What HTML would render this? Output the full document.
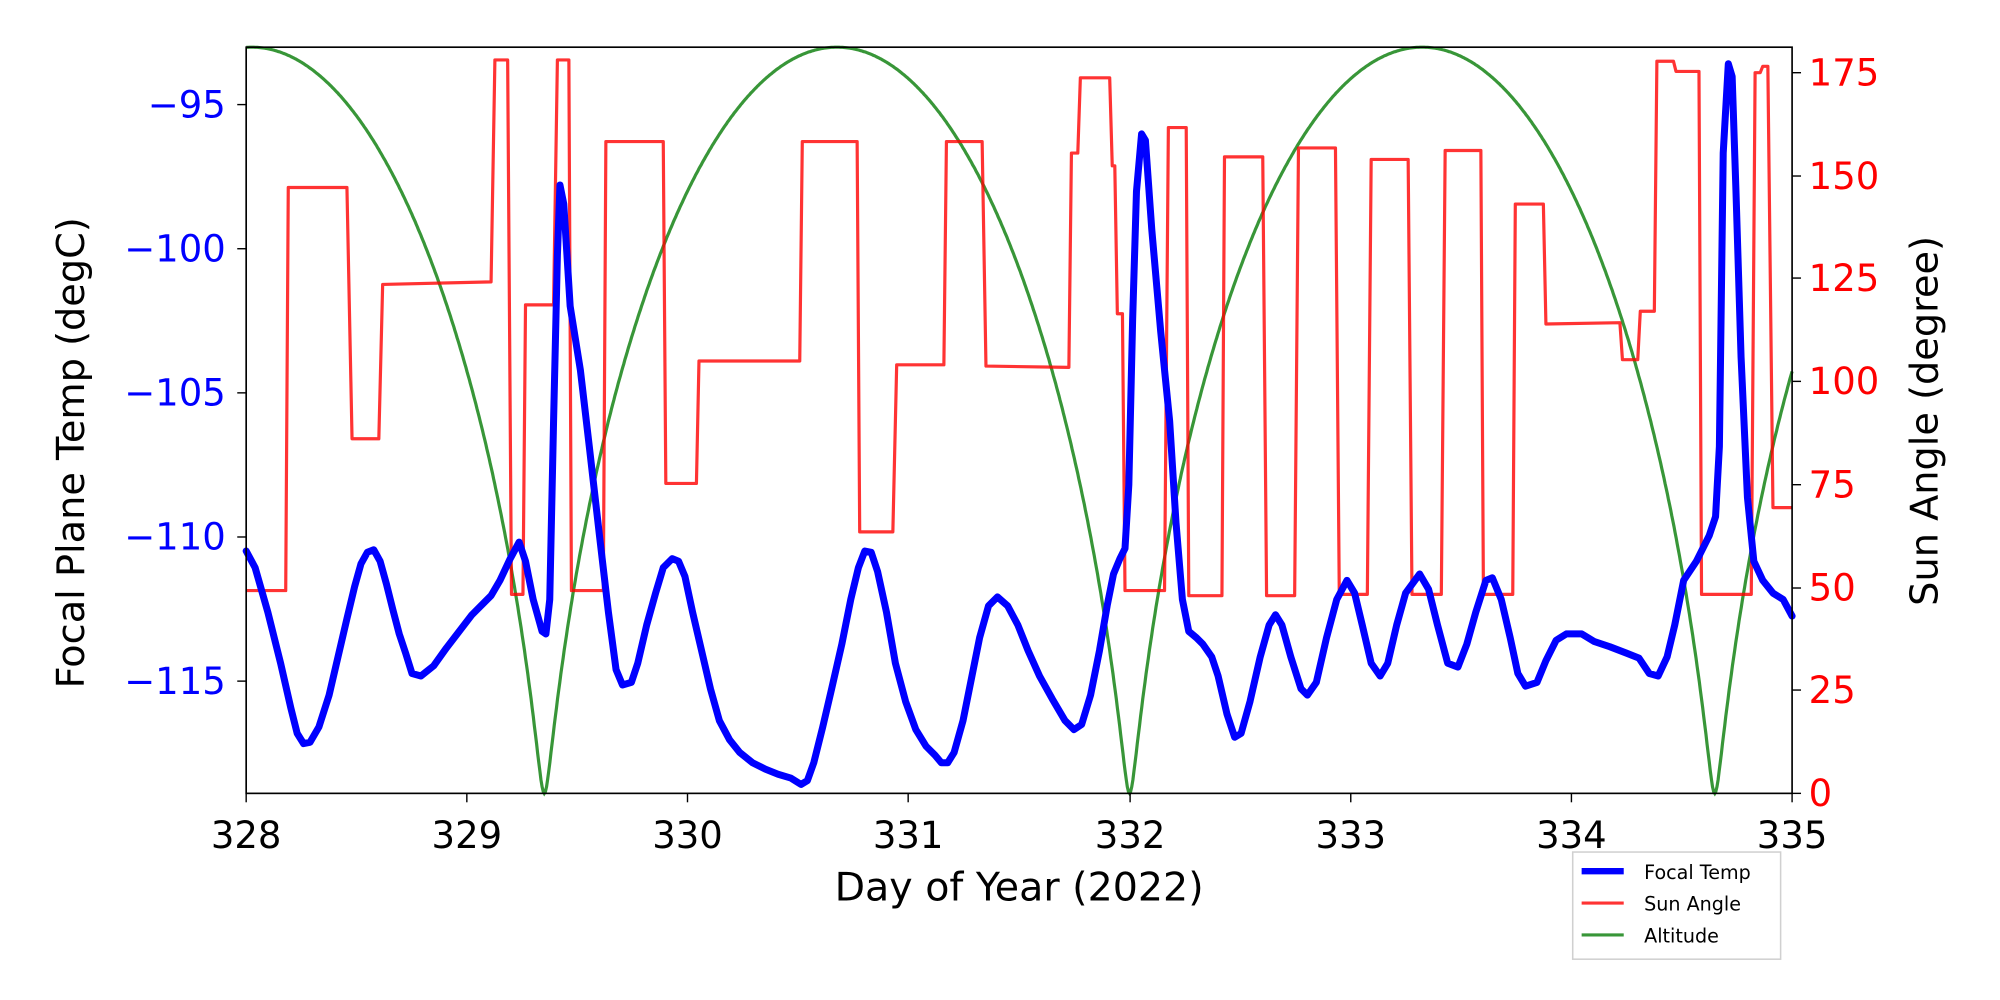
<!DOCTYPE html>
<html><head><meta charset="utf-8"><style>html,body{margin:0;padding:0;background:#fff}svg{display:block}</style></head>
<body>
<svg width="2000" height="1000" viewBox="0 0 1568 784" xmlns="http://www.w3.org/2000/svg" font-family="DejaVu Sans, Liberation Sans, sans-serif">
<rect width="1568" height="784" fill="#fff"/>
<g id="alt"></g>
<polyline fill="none" stroke="#ff0000" stroke-opacity="0.8" stroke-width="2.5" stroke-linejoin="round" points="193,463 224,463 226,147 272,147 276,344 297,344 300,223 385,221 388,47 398,47 401,466 410,466 412,239 434,239 437,47 446,47 448,463 473,463 475,111 520,111 522,379 546,379 548,283 627,283 629,111 672,111 674,417 700,417 703,286 740,286 742,111 770,111 773,287 838,288 840,120 845,120 847,61 870,61 872,130 874,130 876,246 880,246 882,463 913,463 916,100 930,100 932,467 958,467 960,123 990,123 993,467 1015,467 1018,116 1047,116 1050,466 1072,466 1075,125 1104,125 1107,466 1130,466 1133,118 1161,118 1163,466 1186,466 1188,160 1210,160 1212,254 1270,253 1272,282 1284,282 1286,244 1297,244 1299,48 1312,48 1314,56 1332,56 1334,466 1373,466 1376,57 1380,57 1382,52 1386,52 1390,398 1405,398"/>
<polyline fill="none" stroke="#0000ff" stroke-width="5.5" stroke-linejoin="round" stroke-linecap="round" points="193,432 200,445 210,480 220,520 228,555 233,575 238,583 243,582 250,570 258,545 265,515 272,485 278,460 283,442 288,433 293,431 298,440 303,458 308,478 313,497 318,512 323,528 330,530 340,522 350,508 360,495 370,482 380,472 385,467 392,455 400,438 407,425 412,440 418,470 425,495 428,497 431,470 434,330 437,200 439,145 442,160 447,240 455,290 462,350 470,420 477,480 483,525 488,537 495,535 500,520 507,490 514,465 520,445 527,438 532,440 537,452 543,480 550,510 557,540 564,565 572,580 580,590 590,598 600,603 610,607 620,610 628,615 633,612 638,598 645,570 652,540 660,505 667,470 673,445 678,432 683,433 688,448 695,480 702,520 710,550 718,572 726,585 733,592 738,598 743,598 748,590 755,565 762,530 768,500 775,475 782,468 790,475 798,490 806,510 815,530 825,548 835,565 842,572 848,568 855,545 862,510 868,475 873,450 878,438 882,430 885,380 888,250 891,150 895,105 898,110 903,180 910,260 917,330 922,410 927,470 932,495 938,500 943,505 950,515 955,530 962,560 968,578 973,575 980,550 988,515 995,490 1000,482 1005,490 1012,515 1020,540 1025,545 1032,535 1040,500 1048,470 1056,455 1062,465 1068,490 1075,520 1082,530 1088,520 1095,490 1102,465 1113,450 1120,462 1127,490 1135,520 1143,523 1150,505 1157,480 1165,455 1170,453 1177,470 1184,500 1190,528 1196,538 1205,535 1212,518 1220,502 1228,497 1240,497 1250,503 1262,507 1275,512 1285,516 1293,528 1300,530 1307,515 1313,490 1320,455 1330,440 1340,420 1345,405 1348,350 1351,120 1355,50 1358,60 1361,150 1365,280 1370,390 1375,440 1382,455 1390,465 1398,470 1405,483"/>
<rect x="193" y="37" width="1212" height="585" fill="none" stroke="#000" stroke-width="1.3"/>
<g stroke="#000" stroke-width="1.1">
<line x1="193" y1="622" x2="193" y2="629"/><line x1="366" y1="622" x2="366" y2="629"/><line x1="539" y1="622" x2="539" y2="629"/><line x1="712" y1="622" x2="712" y2="629"/><line x1="886" y1="622" x2="886" y2="629"/><line x1="1059" y1="622" x2="1059" y2="629"/><line x1="1232" y1="622" x2="1232" y2="629"/><line x1="1405" y1="622" x2="1405" y2="629"/>
<line x1="186" y1="82" x2="193" y2="82"/><line x1="186" y1="195" x2="193" y2="195"/><line x1="186" y1="308" x2="193" y2="308"/><line x1="186" y1="421" x2="193" y2="421"/><line x1="186" y1="534" x2="193" y2="534"/>
<line x1="1405" y1="622" x2="1412" y2="622"/><line x1="1405" y1="541" x2="1412" y2="541"/><line x1="1405" y1="461" x2="1412" y2="461"/><line x1="1405" y1="380" x2="1412" y2="380"/><line x1="1405" y1="299" x2="1412" y2="299"/><line x1="1405" y1="218" x2="1412" y2="218"/><line x1="1405" y1="138" x2="1412" y2="138"/><line x1="1405" y1="57" x2="1412" y2="57"/>
</g>
<g font-size="29" text-anchor="middle" fill="#000">
<text x="193" y="665">328</text><text x="366" y="665">329</text><text x="539" y="665">330</text><text x="712" y="665">331</text><text x="886" y="665">332</text><text x="1059" y="665">333</text><text x="1232" y="665">334</text><text x="1405" y="665">335</text>
</g>
<g font-size="29" text-anchor="end" fill="#0000ff">
<text x="177" y="92">−95</text><text x="177" y="205">−100</text><text x="177" y="318">−105</text><text x="177" y="431">−110</text><text x="177" y="544">−115</text>
</g>
<g font-size="29" fill="#ff0000">
<text x="1418" y="632">0</text><text x="1418" y="551">25</text><text x="1418" y="471">50</text><text x="1418" y="390">75</text><text x="1418" y="309">100</text><text x="1418" y="228">125</text><text x="1418" y="148">150</text><text x="1418" y="67">175</text>
</g>
<text x="799" y="706" font-size="31" text-anchor="middle">Day of Year (2022)</text>
<text transform="translate(66,355) rotate(-90)" font-size="30" text-anchor="middle">Focal Plane Temp (degC)</text>
<text transform="translate(1519,330) rotate(-90)" font-size="30" text-anchor="middle">Sun Angle (degree)</text>
<rect x="1233" y="668" width="163" height="84" fill="#fff" stroke="#d0d0d0" stroke-width="1.2"/>
<line x1="1240" y1="683" x2="1273" y2="683" stroke="#0000ff" stroke-width="5"/>
<line x1="1240" y1="708" x2="1273" y2="708" stroke="#ff0000" stroke-opacity="0.8" stroke-width="2.5"/>
<line x1="1240" y1="733" x2="1273" y2="733" stroke="#228b22" stroke-opacity="0.9" stroke-width="2.5"/>
<g font-size="15" fill="#000"><text x="1289" y="689">Focal Temp</text><text x="1289" y="714">Sun Angle</text><text x="1289" y="739">Altitude</text></g>
</svg>
<script>
(function(){
var g=document.getElementById('alt');var pts=[];var e=0.88,P=2.65,peri=329.35;
for(var i=0;i<=1400;i++){var t=328+7*i/1400;var M=2*Math.PI*(t-peri)/P;var E=M;for(var k=0;k<60;k++){E=E-(E-e*Math.sin(E)-M)/(1-e*Math.cos(E));}
var v=(1-Math.cos(E))/2;var x=193+(t-328)*173.14;var y=622-v*585;pts.push(x.toFixed(1)+','+y.toFixed(1));}
var p=document.createElementNS('http://www.w3.org/2000/svg','polyline');p.setAttribute('points',pts.join(' '));p.setAttribute('fill','none');p.setAttribute('stroke','#228b22');p.setAttribute('stroke-opacity','0.9');p.setAttribute('stroke-width','2.5');g.appendChild(p);
})();
</script>
</body></html>
